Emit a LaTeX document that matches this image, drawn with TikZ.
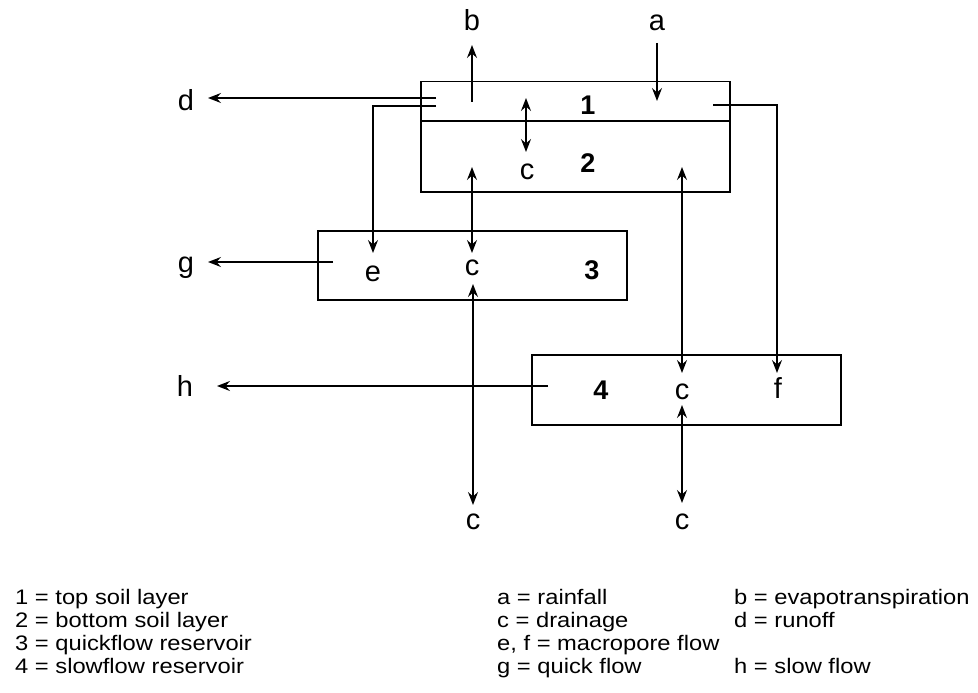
\documentclass[tikz,border=0pt]{standalone}
\usepackage{fontspec}
\setmainfont{Liberation Sans}
\newfontfamily\legendfont[FakeStretch=1.13]{Liberation Sans}
\usetikzlibrary{arrows.meta}
\tikzset{
  x=1pt, y=-1pt,
  box/.style={draw, line width=1.5pt, rectangle, inner sep=0pt, anchor=north west},
  lbl/.style={inner sep=0pt, font=\fontsize{29}{32}\selectfont},
  num/.style={inner sep=0pt, font=\fontsize{27}{30}\selectfont\bfseries},
  leg/.style={inner sep=0pt, anchor=base west, font=\legendfont\fontsize{21}{24}\selectfont},
  flow/.style={line width=1.5pt, -{Stealth[length=13pt,width=10pt,inset=4.5pt]}},
  bflow/.style={line width=1.5pt, {Stealth[length=13pt,width=10pt,inset=4.5pt]}-{Stealth[length=13pt,width=10pt,inset=4.5pt]}},
}
\begin{document}
\begin{tikzpicture}
\useasboundingbox (0,0) rectangle (978,693);
% boxes
\node[box, minimum width=309pt, minimum height=110pt] (B12) at (420,81) {};
\node[box, minimum width=309pt, minimum height=69pt] (B3) at (317,230) {};
\node[box, minimum width=309pt, minimum height=70pt] (B4) at (531,354) {};
\coordinate (divL) at (420,121);
\coordinate (divR) at (729,121);
\draw[line width=1.5pt] (divL) -- (divR);
% labels
\node[lbl] (b) at (472,20) {b};
\node[lbl] (a) at (657,23) {a};
\node[lbl] (d) at (186,100) {d};
\node[lbl] (g) at (186,268) {g};
\node[lbl] (h) at (185,386) {h};
\node[lbl] (e) at (373,274) {e};
\node[lbl] (c1) at (527,172) {c};
\node[lbl] (c3) at (472,268) {c};
\node[lbl] (c4) at (682,392) {c};
\node[lbl] (f) at (778,388) {f};
\node[lbl] (cb1) at (473,522) {c};
\node[lbl] (cb2) at (682,522) {c};
\node[num] (n1) at (588,105) {1};
\node[num] (n2) at (588,163) {2};
\node[num] (n3) at (592,270) {3};
\node[num] (n4) at (601,390) {4};
% coordinates
\coordinate (bS) at (472,102); \coordinate (bE) at (472,45);
\coordinate (aS) at (657,43);  \coordinate (aE) at (657,101);
\coordinate (c12a) at (526,98); \coordinate (c12b) at (526,152);
\coordinate (dS) at (436,98);  \coordinate (dE) at (208,98);
\coordinate (eS) at (436,106); \coordinate (eE) at (373,253);
\coordinate (fS) at (713,105); \coordinate (fE) at (777,373);
\coordinate (c23a) at (472,167); \coordinate (c23b) at (472,253);
\coordinate (c24a) at (682,167); \coordinate (c24b) at (682,373);
\coordinate (gS) at (333,262); \coordinate (gE) at (208,262);
\coordinate (c3a) at (473,284); \coordinate (c3b) at (473,505);
\coordinate (hS) at (548,386); \coordinate (hE) at (217,386);
\coordinate (c4a) at (682,405); \coordinate (c4b) at (682,503);
% connectors
\draw[flow] (bS) -- (bE);
\draw[flow] (aS) -- (aE);
\draw[bflow] (c12a) -- (c12b);
\draw[flow] (dS) -- (dE);
\draw[flow] (eS) -| (eE);
\draw[flow] (fS) -| (fE);
\draw[bflow] (c23a) -- (c23b);
\draw[bflow] (c24a) -- (c24b);
\draw[flow] (gS) -- (gE);
\draw[bflow] (c3a) -- (c3b);
\draw[flow] (hS) -- (hE);
\draw[bflow] (c4a) -- (c4b);
% legend
\node[leg] (l1) at (15,604) {1 = top soil layer};
\node[leg] (l2) at (15,627) {2 = bottom soil layer};
\node[leg] (l3) at (15,650) {3 = quickflow reservoir};
\node[leg] (l4) at (15,673) {4 = slowflow reservoir};
\node[leg] (la) at (497,604) {a = rainfall};
\node[leg] (lc) at (497,627) {c = drainage};
\node[leg] (le) at (497,650) {e, f = macropore flow};
\node[leg] (lg) at (497,673) {g = quick flow};
\node[leg] (lb) at (734,604) {b = evapotranspiration};
\node[leg] (ld) at (734,627) {d = runoff};
\node[leg] (lh) at (734,673) {h = slow flow};
\end{tikzpicture}
\end{document}
